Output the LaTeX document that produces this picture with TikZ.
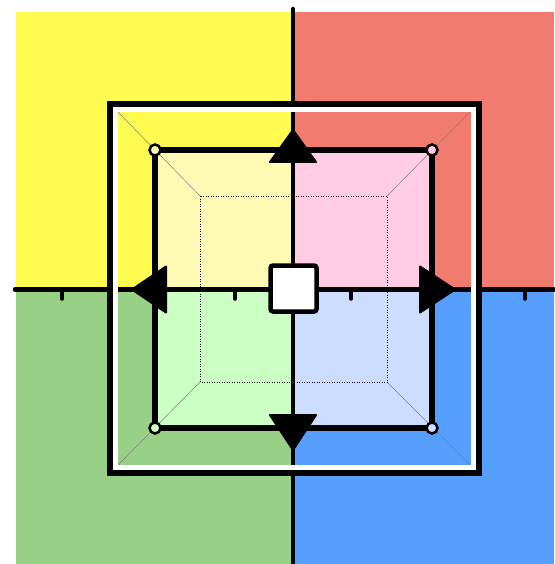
\documentclass[tikz,border=0pt]{standalone}
\definecolor{cyel}{HTML}{FFFB50}
\definecolor{cred}{HTML}{F27B6F}
\definecolor{cgrn}{HTML}{98D185}
\definecolor{cblu}{HTML}{569FFF}
\definecolor{lyel}{HTML}{FFFBB5}
\definecolor{lred}{HTML}{FFCCE3}
\definecolor{lgrn}{HTML}{CCFFC4}
\definecolor{lblu}{HTML}{CCDDFF}
\tikzset{
  axisline/.style={line width=4.5pt, line cap=round},
  tickline/.style={line width=3.5pt, line cap=round},
  midbox/.style={line width=5.5pt},
  diag/.style={gray, line width=0.5pt},
  dotbox/.style={dotted, line width=0.5pt},
  corner/.style={line width=2.5pt},
  tri/.style={fill=black, draw=black, line width=2pt, line join=round},
  centre/.style={line width=4.5pt, fill=white, rounded corners=2.5pt}
}
\begin{document}
\begin{tikzpicture}[x=1pt,y=-1pt]
\useasboundingbox (0,0) rectangle (554,564);
% quadrants
\fill[cyel] (16,12) rectangle (293,289.5);
\fill[cred] (293,12) rectangle (554,289.5);
\fill[cgrn] (16,289.5) rectangle (293,564);
\fill[cblu] (293,289.5) rectangle (554,564);
% light inner fills
\fill[lyel] (155,150) rectangle (293,289.5);
\fill[lred] (293,150) rectangle (432,289.5);
\fill[lgrn] (155,289.5) rectangle (293,428);
\fill[lblu] (293,289.5) rectangle (432,428);
% corners
\coordinate (o1) at (118,112);
\coordinate (o2) at (470,112);
\coordinate (o3) at (470,465);
\coordinate (o4) at (118,465);
\coordinate (d1) at (200,196);
\coordinate (d2) at (387,196);
\coordinate (d3) at (387,382);
\coordinate (d4) at (200,382);
\draw[diag] (o1) -- (d1);
\draw[diag] (o2) -- (d2);
\draw[diag] (o3) -- (d3);
\draw[diag] (o4) -- (d4);
\draw[dotbox] (d1) rectangle (d3);
% axes
\draw[axisline] (293,9) -- (293,564);
\draw[axisline] (15,289.5) -- (554,289.5);
\foreach \t in {62,235,351,525} \draw[tickline] (\t,289.5) -- (\t,299);
% middle box
\draw[midbox] (155,150) rectangle (432,428);
% outer box
\draw[line width=6pt] (110,104) rectangle (478.5,473);
\draw[white, line width=5pt] (115.5,109.5) rectangle (473,467.5);
% corner circles
\draw[corner, fill=lyel] (155,150) circle (5.5);
\draw[corner, fill=lred] (432,150) circle (5.5);
\draw[corner, fill=lblu] (432,428) circle (5.5);
\draw[corner, fill=lgrn] (155,428) circle (5.5);
% arrow triangles
\draw[tri] (293,130) -- (270,162) -- (316,162) -- cycle;
\draw[tri] (293,450) -- (270,415) -- (316,415) -- cycle;
\draw[tri] (132,289.5) -- (166,266.5) -- (166,312.5) -- cycle;
\draw[tri] (455,289.5) -- (420,266.5) -- (420,312.5) -- cycle;
% centre square
\draw[centre] (270.5,265.5) rectangle (316.5,311.5);
\end{tikzpicture}
\end{document}
